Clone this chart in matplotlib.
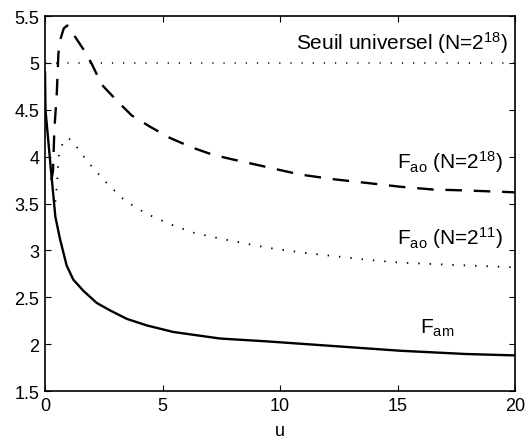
import numpy as np
import matplotlib
matplotlib.use("Agg")
import matplotlib.pyplot as plt

plt.rcParams['font.family'] = ['Liberation Sans', 'DejaVu Sans']
plt.rcParams['mathtext.fontset'] = 'custom'
plt.rcParams['mathtext.rm'] = 'Liberation Sans'
plt.rcParams['mathtext.it'] = 'Liberation Sans'

# F_am (solid)
u_am = [0.0, 0.02, 0.23, 0.44, 0.64, 0.92, 1.2, 1.63, 2.2, 2.77, 3.48, 4.33, 5.46, 6.31,
        7.45, 9.43, 12.27, 15.1, 17.9, 20.0]
f_am = [4.9, 4.5, 3.92, 3.36, 3.12, 2.84, 2.69, 2.57, 2.44, 2.36, 2.27, 2.20, 2.13, 2.10,
        2.06, 2.03, 1.98, 1.93, 1.895, 1.88]

# F_ao N=2^18 (dashed)
u_ao18 = [0.27, 0.34, 0.4, 0.5, 0.57, 0.65, 0.8, 0.95, 1.2, 1.49, 1.7, 1.99, 2.41, 3.05,
          3.69, 4.47, 5.32, 6.24, 7.15, 8.0, 9.43, 10.85, 12.27, 13.7, 15.1, 16.5, 17.9, 20.0]
f_ao18 = [3.75, 3.85, 4.3, 4.67, 5.1, 5.25, 5.37, 5.4, 5.31, 5.2, 5.12, 4.99, 4.77, 4.6,
          4.44, 4.32, 4.2, 4.1, 4.02, 3.97, 3.89, 3.81, 3.76, 3.72, 3.68, 3.65, 3.64, 3.62]

# F_ao N=2^11 (dotted)
u_ao11 = [0.44, 0.48, 0.51, 0.54, 0.58, 0.65, 0.8, 1.0, 1.3, 1.8, 2.62, 3.4, 4.33, 5.32,
          6.31, 7.38, 8.0, 9.43, 10.85, 12.27, 13.7, 15.1, 16.5, 17.9, 20.0]
f_ao11 = [3.52, 3.63, 3.73, 3.81, 4.0, 4.08, 4.17, 4.2, 4.12, 3.95, 3.72, 3.53, 3.39, 3.28,
          3.19, 3.13, 3.10, 3.03, 2.98, 2.94, 2.90, 2.87, 2.855, 2.84, 2.82]

seuil = 5.0

fig = plt.figure(figsize=(5.27, 4.39), dpi=100)
ax = fig.add_axes([0.0854, 0.107, 0.892, 0.854])

ax.plot(u_am, f_am, color='black', lw=1.7, ls='-')
ax.plot(u_ao18, f_ao18, color='black', lw=1.7, ls=(0, (7, 5)))
ax.plot(u_ao11, f_ao11, color='black', lw=1.3, ls=(0, (0.8, 5.5)))
ax.axhline(seuil, color='black', lw=1.1, ls=(0, (0.8, 6.5)))

fs = 15
ax.text(19.7, 5.148, r'Seuil universel (N=2$^{18}$)', ha='right', va='baseline', fontsize=fs)
ax.text(19.5, 3.886, r'F$_{\rm ao}$ (N=2$^{18}$)', ha='right', va='baseline', fontsize=fs)
ax.text(19.5, 3.068, r'F$_{\rm ao}$ (N=2$^{11}$)', ha='right', va='baseline', fontsize=fs)
ax.text(15.96, 2.126, r'F$_{\rm am}$', ha='left', va='baseline', fontsize=fs)

ax.set_xlim(0, 20)
ax.set_ylim(1.5, 5.5)
ax.set_xticks([0, 5, 10, 15, 20])
ax.set_yticks([1.5, 2, 2.5, 3, 3.5, 4, 4.5, 5, 5.5])
ax.set_yticklabels(['1.5', '2', '2.5', '3', '3.5', '4', '4.5', '5', '5.5'])
ax.tick_params(direction='in', top=True, right=True, length=4, labelsize=13, pad=4)
ax.set_xlabel('u', fontsize=13, labelpad=6)
for s in ax.spines.values():
    s.set_linewidth(1.2)

fig.savefig('out.png', dpi=100)
